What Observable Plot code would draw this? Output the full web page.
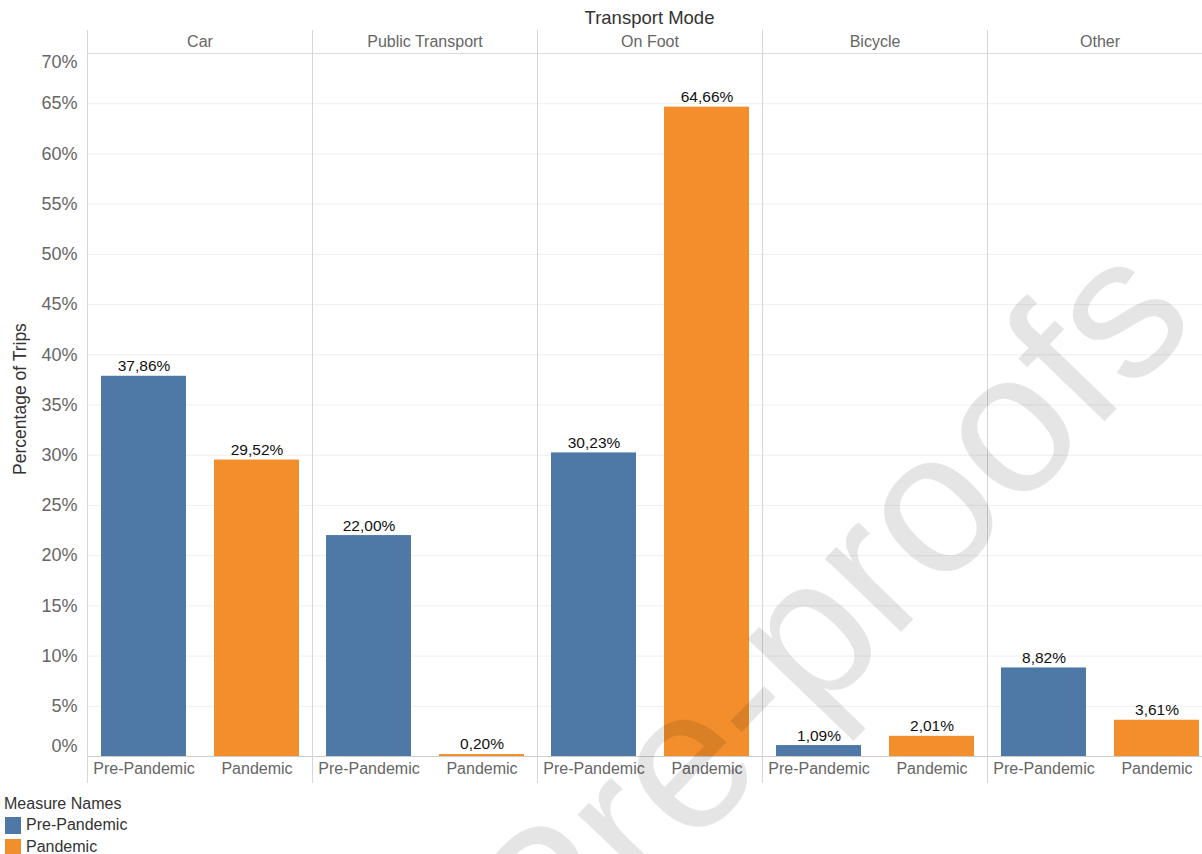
<!DOCTYPE html>
<html>
<head>
<meta charset="utf-8">
<script src="https://cdn.jsdelivr.net/npm/d3@7"></script>
<script src="https://cdn.jsdelivr.net/npm/@observablehq/plot@0.6"></script>
<style>
  html, body { margin: 0; padding: 0; background: #fff; }
  body { width: 1202px; height: 854px; overflow: hidden; position: relative; font-family: "Liberation Sans", Arial, sans-serif; }
  #chart { position: absolute; left: 0; top: 30px; width: 1212px; }
  #chart svg { max-width: none !important; }
  #title { position: absolute; left: 87px; width: 1125px; top: 7px; text-align: center; font-size: 18.5px; color: #333; line-height: 22px; }
  #ylabel { position: absolute; left: 20px; top: 399px; transform: translate(-50%, -50%) rotate(-90deg); white-space: nowrap; font-size: 17.5px; color: #333; }
  #legend { position: absolute; left: 4px; top: 794px; font-size: 16px; color: #333; }
  #legend .ttl { line-height: 20px; }
  #legend .item { display: flex; align-items: center; height: 22px; }
  #legend .sw { width: 16px; height: 17px; margin-left: 1px; margin-right: 5px; }
  #watermark { position: absolute; left: 0; top: 0; pointer-events: none; }
</style>
</head>
<body>
<div id="title">Transport Mode</div>
<div id="chart"></div>
<div id="ylabel">Percentage of Trips</div>
<div id="legend"></div>
<svg id="watermark" width="1202" height="854"></svg>
<script>
// ---- data ----
const modes = ["Car", "Public Transport", "On Foot", "Bicycle", "Other"];
const measures = ["Pre-Pandemic", "Pandemic"];
const prePandemic = [37.86, 22.00, 30.23, 1.09, 8.82];
const pandemic = [29.52, 0.20, 64.66, 2.01, 3.61];
const gridTicks = [5, 10, 15, 20, 25, 30, 35, 40, 45, 50, 55, 60, 65];
const bottomTick = [0];
const topTick = [70];
const colors = ["#4e79a7", "#f28e2b"];
const legendTitle = "Measure Names";
const watermarkText = "Pre-proofs";

const rows = [];
modes.forEach((m, i) => {
  rows.push({mode: m, measure: measures[0], value: prePandemic[i]});
  rows.push({mode: m, measure: measures[1], value: pandemic[i]});
});

const fmt = v => v.toFixed(2).replace(".", ",") + "%";
const font = "Liberation Sans, Arial, sans-serif";

const chart = Plot.plot({
  width: 1212,
  height: 760,
  marginLeft: 87,
  marginRight: 0,
  marginTop: 23,
  marginBottom: 34,
  style: {fontFamily: font, background: "#fff", overflow: "visible", maxWidth: "none"},
  fx: {domain: modes, padding: 0, axis: null, label: null},
  x: {domain: measures, paddingInner: 0.25, paddingOuter: 0.12, label: null},
  y: {domain: [0, 70], label: null},
  color: {domain: measures, range: colors},
  marks: [
    Plot.ruleY(gridTicks, {stroke: "#efefef", strokeWidth: 1}),
    Plot.ruleY(topTick, {stroke: "#dcdcdc", strokeWidth: 1}),
    Plot.barY(rows, {fx: "mode", x: "measure", y: "value", fill: "measure"}),
    Plot.ruleY(bottomTick, {stroke: "#cccccc", strokeWidth: 1}),
    Plot.text(rows, {fx: "mode", x: "measure", y: "value", text: d => fmt(d.value),
      lineAnchor: "bottom", dy: -5, fontSize: 15.5, fill: "#111"}),
    Plot.text(modes, {fx: d => d, text: d => d, frameAnchor: "top", lineAnchor: "middle", dy: -12,
      fontSize: 16, fill: "#666"}),
    Plot.axisX({tickSize: 0, tickPadding: 6, fontSize: 16, color: "#666", label: null}),
    Plot.axisY(gridTicks, {tickSize: 0, tickPadding: 10, fontSize: 18, color: "#666",
      tickFormat: d => d + "%", label: null}),
    Plot.axisY(bottomTick, {tickSize: 0, tickPadding: 10, fontSize: 18, color: "#666",
      tickFormat: d => d + "%", label: null, dy: -10}),
    Plot.axisY(topTick, {tickSize: 0, tickPadding: 10, fontSize: 18, color: "#666",
      tickFormat: d => d + "%", label: null, dy: 9})
  ]
});
document.getElementById("chart").appendChild(chart);

// facet separators drawn from the fx scale
const fxDesc = chart.scale("fx");
const fxScale = d3.scaleBand().domain(fxDesc.domain).range(fxDesc.range).padding(0);
d3.select(chart).append("g")
  .attr("stroke", "#d6d6d6")
  .selectAll("line")
  .data(modes)
  .join("line")
  .attr("x1", d => fxScale(d) + 0.5)
  .attr("x2", d => fxScale(d) + 0.5)
  .attr("y1", 0)
  .attr("y2", 753);

// legend
const legend = d3.select("#legend");
legend.append("div").attr("class", "ttl").text(legendTitle);
measures.forEach((m, i) => {
  const it = legend.append("div").attr("class", "item");
  it.append("div").attr("class", "sw").style("background", colors[i]);
  it.append("span").text(m);
});

// watermark
d3.select("#watermark").append("text")
  .attr("transform", "translate(876,658) rotate(-46)")
  .attr("text-anchor", "middle")
  .attr("font-family", font)
  .attr("font-size", 200)
  .attr("fill", "#000")
  .attr("fill-opacity", 0.1)
  .text(watermarkText);
</script>
</body>
</html>
